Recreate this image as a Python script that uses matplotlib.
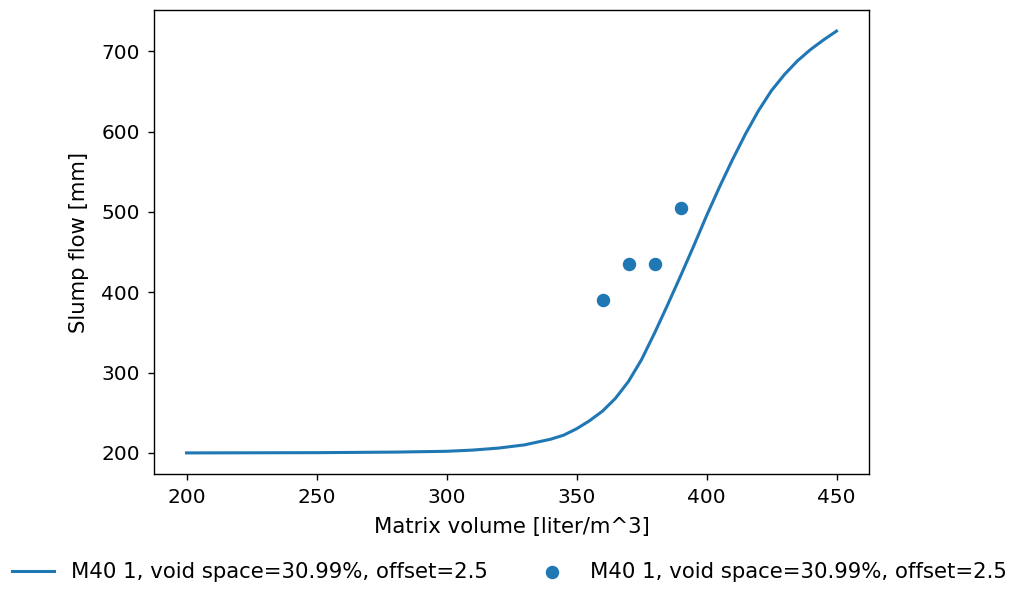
import matplotlib
matplotlib.use("Agg")
import matplotlib.pyplot as plt

# model curve (matrix volume vs slump flow)
matrix_volume = [200, 250, 280, 300, 310, 320, 330, 340, 345, 350, 355, 360, 365,
                 370, 375, 380, 385, 390, 395, 400, 405, 410, 415, 420, 425, 430,
                 435, 440, 445, 450]
slump_flow = [200, 200.3, 201, 202, 203.5, 206, 210, 217, 222, 230, 240, 252, 268,
              289, 316, 349, 384, 420, 457, 495, 531, 565, 597, 626, 651, 671,
              688, 702, 714, 725]

# measured points
meas_volume = [360, 370, 380, 390]
meas_flow = [390, 435, 435, 505]

label = "M40 1, void space=30.99%, offset=2.5"

plt.rcParams["font.size"] = 15.3
plt.rcParams["xtick.labelsize"] = 14.5
plt.rcParams["ytick.labelsize"] = 14.5
plt.rcParams["axes.linewidth"] = 1.0
plt.rcParams["xtick.major.size"] = 4.5
plt.rcParams["ytick.major.size"] = 4.5
plt.rcParams["xtick.major.width"] = 1.0
plt.rcParams["ytick.major.width"] = 1.0
plt.rcParams["xtick.major.pad"] = 5.5
plt.rcParams["ytick.major.pad"] = 5.5

fig, ax = plt.subplots(figsize=(10.19, 5.9), dpi=100)
fig.subplots_adjust(left=154/1019, right=869/1019, top=1-10/590, bottom=1-474/590)

ax.plot(matrix_volume, slump_flow, color="#1f77b4", lw=2.2, label=label)
ax.scatter(meas_volume, meas_flow, color="#1f77b4", s=75, label=label)

ax.set_xlim(187.5, 462.5)
ax.set_ylim(173.75, 751.25)
ax.set_xticks([200, 250, 300, 350, 400, 450])
ax.set_yticks([200, 300, 400, 500, 600, 700])
ax.set_xlabel("Matrix volume [liter/m^3]", labelpad=7.5)
ax.set_ylabel("Slump flow [mm]", labelpad=9)

fig.legend(loc="center", bbox_to_anchor=(0.5, 1-572/590), ncol=2, frameon=False)

fig.savefig("out.png", dpi=100)
